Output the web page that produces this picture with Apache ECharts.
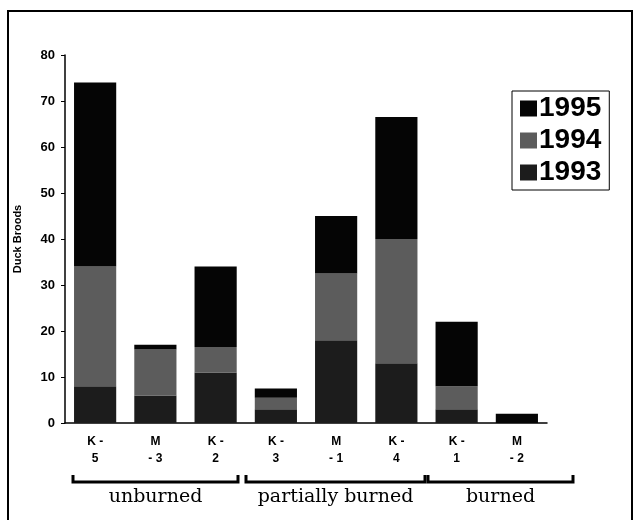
<!DOCTYPE html>
<html>
<head>
<meta charset="utf-8">
<script src="https://cdn.jsdelivr.net/npm/echarts@6/dist/echarts.min.js"></script>
<style>
  html, body { margin: 0; padding: 0; background: #fff; }
  #chart { width: 635px; height: 520px; }
</style>
</head>
<body>
<div id="chart"></div>
<script>
const sites = ['K -\n5', 'M\n- 3', 'K -\n2', 'K -\n3', 'M\n- 1', 'K -\n4', 'K -\n1', 'M\n- 2']
const broods1993 = [8, 6, 11, 3, 18, 13, 3, 0]
const broods1994 = [26, 10, 5.5, 2.5, 14.5, 27, 5, 0]
const broods1995 = [40, 1, 17.5, 2, 12.5, 26.5, 14, 2]
const yTicks = [0, 10, 20, 30, 40, 50, 60, 70, 80]

const chart = echarts.init(document.getElementById('chart'))

function bracket(x1, x2, label) {
  const y = 482
  return [
    {
      type: 'polyline',
      shape: { points: [[x1, y - 7], [x1, y], [x2, y], [x2, y - 7]] },
      style: { stroke: '#000', lineWidth: 3, fill: null },
    },
    {
      type: 'text',
      x: (x1 + x2) / 2,
      y: 497,
      style: {
        text: label,
        font: '19px "DejaVu Serif", serif',
        fill: '#000',
        align: 'center',
        verticalAlign: 'middle',
      },
    },
  ]
}

const option = {
  animation: false,
  grid: { left: 65, right: 88, top: 55, bottom: 97 },
  legend: {
    orient: 'vertical',
    left: 512,
    top: 91,
    data: ['1995', '1994', '1993'],
    icon: 'rect',
    itemWidth: 17,
    itemHeight: 16,
    itemGap: 3,
    padding: [3, 8],
    borderColor: '#000',
    borderWidth: 1,
    textStyle: {
      fontFamily: 'Liberation Sans, Arial, sans-serif',
      fontWeight: 'bold',
      fontSize: 28,
      lineHeight: 29,
      color: '#000',
      padding: [0, 0, 0, -3],
    },
  },
  xAxis: {
    type: 'category',
    data: sites,
    axisLine: { lineStyle: { color: '#000', width: 1.5 } },
    axisTick: { length: 5, lineStyle: { color: '#000' } },
    axisLabel: {
      color: '#000',
      fontFamily: 'Liberation Sans, Arial, sans-serif',
      fontWeight: 'bold',
      fontSize: 12,
      lineHeight: 17,
      margin: 10,
      interval: 0,
    },
  },
  yAxis: {
    type: 'value',
    min: 0,
    max: 80,
    interval: 10,
    name: 'Duck Broods',
    nameLocation: 'middle',
    nameGap: 42,
    nameTextStyle: {
      fontFamily: 'Liberation Sans, Arial, sans-serif',
      fontWeight: 'bold',
      fontSize: 11,
      color: '#000',
    },
    axisLine: { show: true, lineStyle: { color: '#000', width: 1.5 } },
    axisTick: { show: true, length: 4, lineStyle: { color: '#000' } },
    splitLine: { show: false },
    axisLabel: {
      color: '#000',
      fontFamily: 'Liberation Sans, Arial, sans-serif',
      fontWeight: 'bold',
      fontSize: 13,
      margin: 10,
      formatter: (v) => (yTicks.includes(v) ? String(v) : ''),
    },
  },
  series: [
    {
      name: '1993',
      type: 'bar',
      stack: 'broods',
      barCategoryGap: '30%',
      data: broods1993,
      itemStyle: { color: '#1c1c1c' },
    },
    {
      name: '1994',
      type: 'bar',
      stack: 'broods',
      data: broods1994,
      itemStyle: { color: '#5c5c5c' },
    },
    {
      name: '1995',
      type: 'bar',
      stack: 'broods',
      data: broods1995,
      itemStyle: { color: '#050505' },
    },
  ],
  graphic: [
    {
      type: 'rect',
      shape: { x: 8, y: 11, width: 624, height: 515 },
      style: { stroke: '#000', lineWidth: 2, fill: null },
      silent: true,
    },
    ...bracket(73, 238, 'unburned'),
    ...bracket(246, 425, 'partially burned'),
    ...bracket(428, 573, 'burned'),
  ],
}

chart.setOption(option)
</script>
</body>
</html>
